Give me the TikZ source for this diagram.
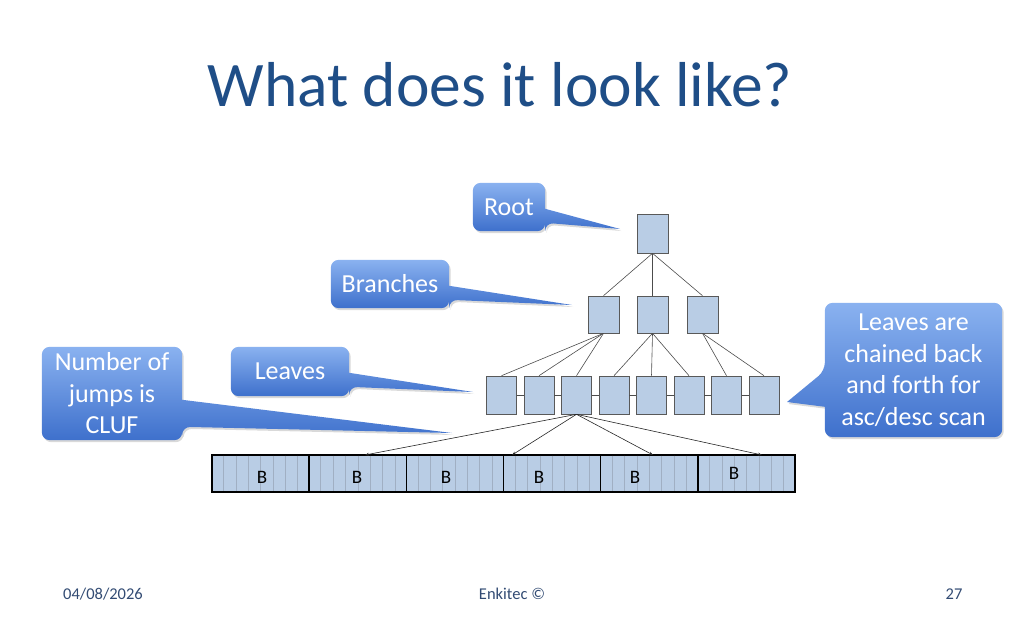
\documentclass[tikz,border=0pt]{standalone}
\usepackage{fontspec}
\setmainfont{Carlito}
\usepackage{tikz}
\usetikzlibrary{arrows.meta,positioning,calc,backgrounds,shadows}
\definecolor{titleblue}{RGB}{31,78,135}
\definecolor{footblue}{RGB}{50,75,115}
\definecolor{boxfill}{RGB}{185,205,229}
\definecolor{bubtop}{RGB}{138,178,240}
\definecolor{bubbot}{RGB}{62,112,204}
\definecolor{slice}{RGB}{160,175,195}

\tikzset{
  blk/.style={draw=black!65,line width=0.6pt,fill=boxfill,minimum width=30pt,minimum height=38pt,inner sep=0pt},
  tree/.style={black!70,line width=0.6pt},
  bubble/.style={top color=bubtop,bottom color=bubbot,
    drop shadow={shadow xshift=1.5pt,shadow yshift=-2pt,opacity=0.3}},
  bubtxt/.style={text=white,font=\fontsize{26}{31.5}\selectfont,align=center,inner sep=0pt},
  bar/.style={draw=black,line width=1.6pt,fill=boxfill,minimum width=97.17pt,minimum height=37pt,inner sep=0pt},
}

\begin{document}
\begin{tikzpicture}[x=1pt,y=-1pt]
  \useasboundingbox (0,0) rectangle (1024,621);
  \node[text=titleblue,font=\fontsize{63.5}{70}\selectfont] (title) at (500,85) {What does it look like?};

  % the tree
  \node[blk,minimum width=31pt,minimum height=39pt] (r) at (652.5,233.5) {};
  \foreach \i/\x in {1/603.5,2/652.5,3/702.5}
    \node[blk,minimum width=31pt,minimum height=37pt] (b\i) at (\x,314.5) {};
  \foreach \i in {1,...,8}
    \node[blk] (l\i) at ({501.5+37.5*(\i-1)},395) {};
  \foreach \i in {1,2,3} \draw[tree] (r.south) -- (b\i.north);
  \foreach \i in {1,2,3} \draw[tree] (b1.south) -- (l\i.north);
  \foreach \i in {4,5,6} \draw[tree] (b2.south) -- (l\i.north);
  \foreach \i in {7,8} \draw[tree] (b3.south) -- (l\i.north);
  \foreach \i [count=\j from 2] in {1,...,7} \draw[tree] (l\i.east) -- (l\j.west);

  % the table blocks
  \foreach \i in {1,...,6} {
    \node[bar] (bk\i) at ({212+97.17*(\i-0.5)},473.5) {};
    \foreach \j in {1,...,7}
      \draw[slice,line width=0.5pt] ($(bk\i.north west)!\j/8!(bk\i.north east)+(0,1.5)$) -- ($(bk\i.south west)!\j/8!(bk\i.south east)-(0,1.5)$);
  }
  \foreach \i/\x/\y in {1/262/477,2/357/477,3/446/477,4/539/477,5/635/477,6/734/473}
    \node[font=\fontsize{19}{19}\selectfont] (B\i) at (\x,\y) {B};

  \coordinate (t1) at (365,455);
  \coordinate (t2) at (512,455);
  \coordinate (t3) at (653,455);
  \coordinate (t4) at (762,455);
  \foreach \t in {t1,t2,t3,t4}
    \draw[black!85,line width=0.6pt,-{Stealth[length=4pt,width=3pt]}] (l3.south) -- (\t);

  % callouts
  \node[bubtxt,minimum width=72pt,minimum height=48pt] (root) at (509,207) {Root};
  \node[bubtxt,minimum width=118pt,minimum height=48pt] (branches) at (390,284) {Branches};
  \node[bubtxt,minimum width=118pt,minimum height=49pt] (leaves) at (290,371.5) {Leaves};
  \node[bubtxt,minimum width=140pt,minimum height=93pt] (jumps) at (112,393.5) {Number of\\jumps is\\CLUF};
  \node[bubtxt,minimum width=177pt,minimum height=134pt] (chain) at (913.5,370) {Leaves are\\chained back\\and forth for\\asc/desc scan};
  \coordinate (rootp) at (620,229);
  \coordinate (branchp) at (572,305);
  \coordinate (leafp) at (473,392);
  \coordinate (jumpp) at (452,433);
  \coordinate (chainp) at (787,402);

  \begin{scope}[on background layer]
    \foreach \n/\p/\a/\b in {root/rootp/26/40,branches/branchp/26/40,leaves/leafp/26/40,jumps/jumpp/53/80}
      \shade[bubble] ($(\n.north east)+(0,\a)$) [rounded corners=8pt] -- (\n.north east) -- (\n.north west) -- (\n.south west) -- (\n.south east) -- ($(\n.north east)+(0,\b)$) [sharp corners] -- (\p) -- cycle;
    \shade[bubble] ($(chain.north west)+(0,104)$) [rounded corners=8pt] -- (chain.south west) -- (chain.south east) -- (chain.north east) -- (chain.north west) -- ($(chain.north west)+(0,68)$) [sharp corners] -- (chainp) -- cycle;
  \end{scope}

  % footer
  \node[text=footblue,font=\fontsize{16.5}{16.5}\selectfont] (date) at (103,594) {04/08/2026};
  \node[text=footblue,font=\fontsize{16.5}{16.5}\selectfont] (firm) at (512,594) {Enkitec ©};
  \node[text=footblue,font=\fontsize{16.5}{16.5}\selectfont] (page) at (954,594) {27};
\end{tikzpicture}
\end{document}
